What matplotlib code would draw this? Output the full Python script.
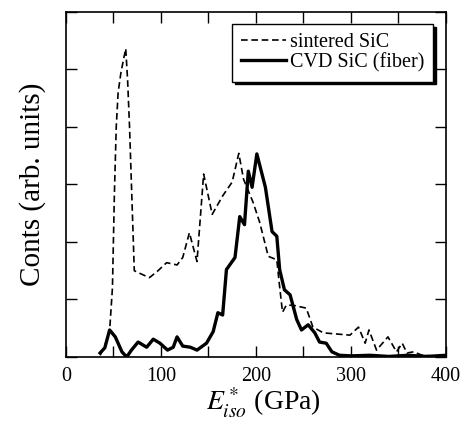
import numpy as np
import matplotlib
matplotlib.use('Agg')
import matplotlib.pyplot as plt

plt.rcParams['font.family'] = ['Liberation Serif', 'DejaVu Serif']
plt.rcParams['mathtext.fontset'] = 'stix'

# sintered SiC (dashed)
sint_x = [36, 41, 46, 49, 51, 53, 55, 58, 61, 63, 65, 67, 69, 71, 72, 81, 88,
          97, 106, 117, 123, 130, 138, 145, 154, 165, 175, 182, 187, 197, 204,
          213, 222, 225, 228, 232, 239, 253, 260, 271, 299, 308, 315, 319, 327,
          339, 348, 354, 359, 366, 375, 385, 400]
sint_y = [0.03, 0.2, 0.45, 1.2, 2.8, 4.0, 4.6, 4.95, 5.2, 5.36, 4.8, 4.0, 3.0,
          2.0, 1.5, 1.43, 1.38, 1.5, 1.64, 1.6, 1.73, 2.16, 1.66, 3.18, 2.48,
          2.8, 3.04, 3.54, 3.09, 2.69, 2.34, 1.75, 1.69, 1.22, 0.78, 0.9, 0.9,
          0.85, 0.52, 0.42, 0.38, 0.52, 0.24, 0.47, 0.12, 0.35, 0.09, 0.24,
          0.07, 0.09, 0.03, 0.02, 0.02]

# CVD SiC fiber (solid)
cvd_x = [36, 41, 46, 52, 59, 64, 69, 76, 85, 92, 99, 107, 113, 117, 123, 131,
         138, 148, 155, 160, 165, 169, 178, 183, 188, 192, 196, 201, 210, 217,
         222, 225, 230, 236, 243, 248, 255, 262, 267, 274, 280, 288, 300, 320,
         340, 360, 380, 400]
cvd_y = [0.07, 0.16, 0.47, 0.35, 0.09, 0.0, 0.12, 0.26, 0.17, 0.31, 0.24, 0.12,
         0.17, 0.35, 0.19, 0.17, 0.12, 0.24, 0.44, 0.77, 0.73, 1.52, 1.73,
         2.44, 2.3, 3.23, 2.95, 3.53, 2.95, 2.18, 2.1, 1.52, 1.17, 1.08, 0.65,
         0.47, 0.56, 0.42, 0.26, 0.24, 0.09, 0.03, 0.02, 0.03, 0.01, 0.03,
         0.01, 0.03]

fig = plt.figure(figsize=(4.64, 4.22), dpi=100)
ax = fig.add_axes([0.142, 0.154, 0.819, 0.818])

ax.plot(sint_x, sint_y, color='black', linewidth=1.2, linestyle=(0, (4, 2.2)),
        label='sintered SiC')
ax.plot(cvd_x, cvd_y, color='black', linewidth=2.4, label='CVD SiC (fiber)')

ax.set_xlim(0, 400)
ax.set_ylim(0, 6)
ax.set_xticks([0, 100, 200, 300, 400])
ax.set_xticks([50, 150, 250, 350], minor=True)
ax.set_yticks(range(7))
ax.set_yticklabels([])
ax.tick_params(which='both', direction='in', top=True, right=True,
               length=8, width=1, labelsize=14.5, pad=7)
for s in ax.spines.values():
    s.set_linewidth(1.2)

ax.set_xlabel(r'$E^*_{iso}$ (GPa)', fontsize=20, labelpad=0)
ax.xaxis.set_label_coords(0.52, -0.085, transform=ax.transAxes)
ax.xaxis.label.set_va('top')
ax.set_ylabel('Conts (arb. units)', fontsize=21, labelpad=7)

leg = ax.legend(loc='upper right', bbox_to_anchor=(0.966, 0.965), fontsize=14.5,
                frameon=True, fancybox=False, edgecolor='black',
                shadow={'color': 'black', 'alpha': 1.0},
                handlelength=2.2, handletextpad=0.2, borderpad=0.45,
                labelspacing=0.05, borderaxespad=0)
leg.get_frame().set_linewidth(1.0)

fig.savefig('out.png', dpi=100)
